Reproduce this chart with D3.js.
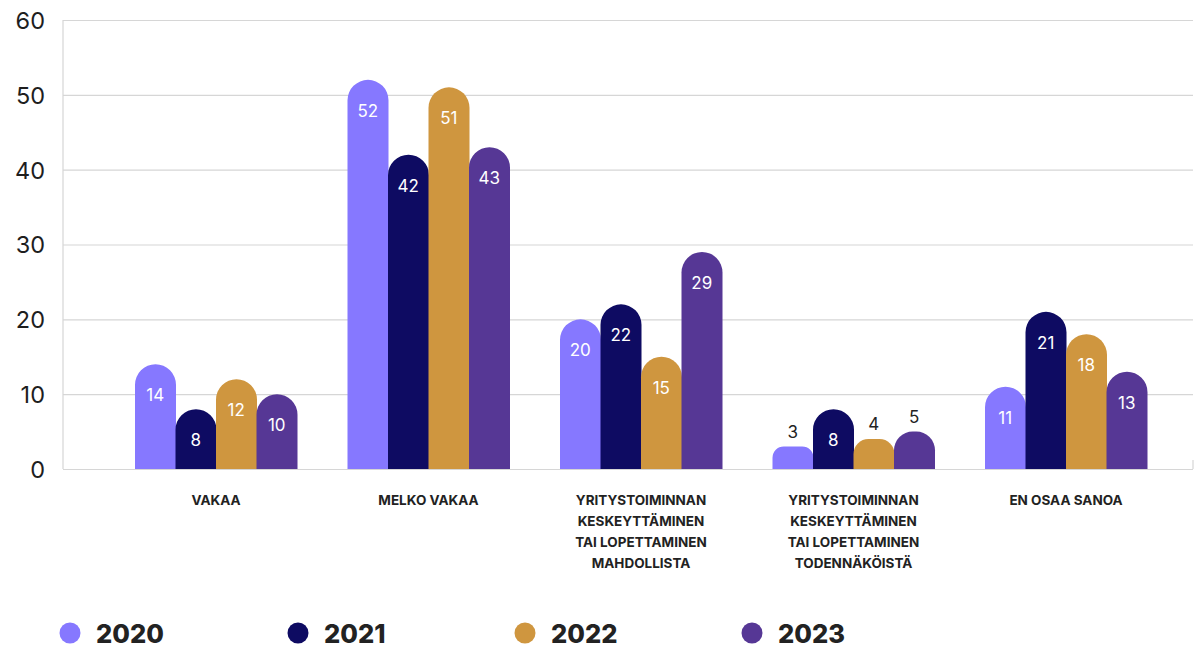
<!DOCTYPE html>
<html><head><meta charset="utf-8">
<script src="https://cdn.jsdelivr.net/npm/d3@7"></script>
<style>body{margin:0;background:#fff;} svg{display:block;}</style>
</head><body>
<svg id="chart" width="1200" height="650"></svg>
<script>
const categories = [
  ["VAKAA"],
  ["MELKO VAKAA"],
  ["YRITYSTOIMINNAN","KESKEYTTÄMINEN","TAI LOPETTAMINEN","MAHDOLLISTA"],
  ["YRITYSTOIMINNAN","KESKEYTTÄMINEN","TAI LOPETTAMINEN","TODENNÄKÖISTÄ"],
  ["EN OSAA SANOA"]
];
const years = ["2020","2021","2022","2023"];
const v2020 = [14, 52, 20, 3, 11];
const v2021 = [8, 42, 22, 8, 21];
const v2022 = [12, 51, 15, 4, 18];
const v2023 = [10, 43, 29, 5, 13];
const yTicks = [0, 10, 20, 30, 40, 50, 60];
const colors = ["#8678FF", "#0E0B62", "#CF963F", "#563795"];

(function () {
const series = [v2020, v2021, v2022, v2023];
const svg = d3.select("#chart");
const pLeft = 63, pRight = 1193, pTop = 20, pBottom = 469;

const y = d3.scaleLinear().domain([0, 60]).range([pBottom, pTop]);
const x0 = d3.scaleBand().domain(d3.range(categories.length)).range([109.75, 1172.25]).paddingInner(0).paddingOuter(0);
const x1 = d3.scaleBand().domain(years).range([0, 162]);
const groupOffset = (x0.bandwidth() - 162) / 2;

const yAxis = d3.axisLeft(y).tickValues(yTicks).tickSize(-(pRight - pLeft)).tickFormat(d => d);
const gy = svg.append("g").attr("transform", `translate(${pLeft},0)`).call(yAxis);
gy.select(".domain").remove();
gy.selectAll(".tick line").attr("stroke", "#d6d6d6").attr("stroke-width", 1.2);
gy.selectAll(".tick text").attr("x", -18).attr("dy", "0.36em")
  .attr("font-family", "Inter, 'DejaVu Sans', sans-serif").attr("font-size", 23.5)
  .attr("fill", "#1e1e1e");
svg.append("line").attr("x1", pLeft).attr("x2", pLeft).attr("y1", pTop).attr("y2", pBottom).attr("stroke", "#d6d6d6").attr("stroke-width", 1.2);
svg.append("line").attr("x1", pRight).attr("x2", pRight).attr("y1", pBottom - 9).attr("y2", pBottom).attr("stroke", "#d6d6d6").attr("stroke-width", 1.2);

function barPath(x, w, yTop, yBot) {
  const h = yBot - yTop;
  const r = Math.min(w / 2, h / 2);
  return `M${x},${yBot} L${x},${yTop + r} A${r},${r} 0 0 1 ${x + r},${yTop} L${x + w - r},${yTop} A${r},${r} 0 0 1 ${x + w},${yTop + r} L${x + w},${yBot} Z`;
}

categories.forEach((cat, ci) => {
  const g = svg.append("g").attr("transform", `translate(${x0(ci) + groupOffset},0)`);
  years.forEach((yr, si) => {
    const v = series[si][ci];
    const bx = x1(yr), bw = x1.bandwidth();
    g.append("path").attr("d", barPath(bx, bw + 0.5, y(v), y(0))).attr("fill", colors[si]);
    const inside = v >= 8;
    g.append("text")
      .attr("x", bx + bw / 2)
      .attr("y", inside ? y(v) + 31 : y(v) - 15)
      .attr("dy", "0.36em")
      .attr("text-anchor", "middle")
      .attr("font-family", "Inter, 'DejaVu Sans', sans-serif")
      .attr("font-size", 17)
      .attr("fill", inside ? "#ffffff" : "#222")
      .text(v);
  });
  const t = svg.append("text")
    .attr("text-anchor", "middle")
    .attr("font-family", "Inter, 'DejaVu Sans', sans-serif")
    .attr("font-weight", 700)
    .attr("font-size", 13.5)
    .attr("fill", "#222");
  cat.forEach((line, li) => {
    t.append("tspan").attr("x", x0(ci) + x0.bandwidth() / 2).attr("y", 505 + li * 21).text(line);
  });
});

const legendX = [70, 298, 525, 752];
years.forEach((yr, i) => {
  svg.append("circle").attr("cx", legendX[i]).attr("cy", 633).attr("r", 10.5).attr("fill", colors[i]);
  svg.append("text").attr("x", legendX[i] + 26).attr("y", 634).attr("dy", "0.36em")
    .attr("font-family", "Inter, 'DejaVu Sans', sans-serif")
    .attr("font-weight", 800).attr("font-size", 25.5).attr("fill", "#222").text(yr);
});
})();
</script>
</body></html>
